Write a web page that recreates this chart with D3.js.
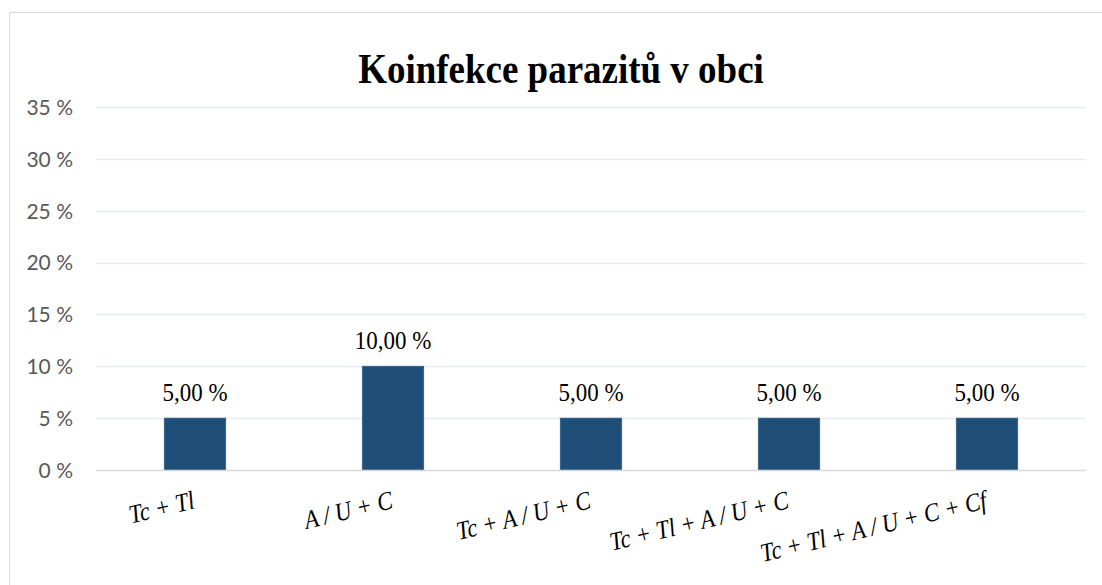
<!DOCTYPE html>
<html>
<head>
<meta charset="utf-8">
<script src="https://cdn.jsdelivr.net/npm/d3@7"></script>
<style>
  html, body { margin: 0; padding: 0; background: #ffffff; }
  svg { display: block; }
</style>
</head>
<body>
<svg id="chart" width="1102" height="585"></svg>
<script>
const title = "Koinfekce parazitů v obci";
const categories = ["Tc + Tl", "A / U + C", "Tc + A / U + C", "Tc + Tl + A / U + C", "Tc + Tl + A / U + C + Cf"];
const values = [0.05, 0.10, 0.05, 0.05, 0.05];
const valueLabels = ["5,00 %", "10,00 %", "5,00 %", "5,00 %", "5,00 %"];
const yTicks = [0, 0.05, 0.10, 0.15, 0.20, 0.25, 0.30, 0.35];
const yTickLabels = ["0 %", "5 %", "10 %", "15 %", "20 %", "25 %", "30 %", "35 %"];

const svg = d3.select("#chart");
const serif = "'Liberation Serif', 'Times New Roman', serif";

// chart area border
svg.append("path")
  .attr("d", "M9.5,600 L9.5,12.5 L1110,12.5")
  .attr("fill", "none")
  .attr("stroke", "#d9d9d9")
  .attr("stroke-width", 1);

const plot = { left: 96, right: 1086, top: 107, bottom: 470 };

const x = d3.scaleBand().domain(categories).range([plot.left, plot.right]).paddingInner(0.69).paddingOuter(0.345);
const y = d3.scaleLinear().domain([0, 0.35]).range([plot.bottom, plot.top]);

// gridlines
svg.append("g").selectAll("line")
  .data(yTicks.filter(d => d > 0))
  .join("line")
  .attr("x1", plot.left).attr("x2", plot.right)
  .attr("y1", d => Math.round(y(d)) + 0.5).attr("y2", d => Math.round(y(d)) + 0.5)
  .attr("stroke", "#e8ecf1").attr("stroke-width", 1.3);

// y axis labels
const yAxis = d3.axisLeft(y).tickValues(yTicks).tickFormat((d, i) => yTickLabels[i]).tickSize(0).tickPadding(0);
const yg = svg.append("g").attr("transform", "translate(73,0)").call(yAxis);
yg.select(".domain").remove();
yg.selectAll("text")
  .attr("font-family", "Lato, 'Open Sans', sans-serif")
  .attr("font-size", 21)
  .attr("fill", "#595959")
  .attr("dy", "0.35em");

// bars
svg.append("g").selectAll("rect")
  .data(values)
  .join("rect")
  .attr("x", (d, i) => x(categories[i]))
  .attr("width", x.bandwidth())
  .attr("y", d => y(d))
  .attr("height", d => y(0) - y(d))
  .attr("fill", "#1f4e79")
  .attr("stroke", "#2e5d88")
  .attr("stroke-width", 0.8);

// x axis baseline
svg.append("line")
  .attr("x1", plot.left).attr("x2", plot.right)
  .attr("y1", plot.bottom + 0.5).attr("y2", plot.bottom + 0.5)
  .attr("stroke", "#d9d9d9").attr("stroke-width", 1.5);

// value labels
svg.append("g").selectAll("text")
  .data(values)
  .join("text")
  .attr("transform", (d, i) => `translate(${x(categories[i]) + x.bandwidth() / 2},${y(d) - 17}) scale(0.9,1)`)
  .attr("text-anchor", "middle")
  .attr("font-family", serif)
  .attr("font-size", 25.5)
  .attr("fill", "#000000")
  .text((d, i) => valueLabels[i]);

// category labels (rotated)
svg.append("g").selectAll("text")
  .data(categories)
  .join("text")
  .attr("transform", d => `translate(${x(d) + x.bandwidth() / 2 + 1},508) rotate(-13.5) scale(0.88,1)`)
  .attr("text-anchor", "end")
  .attr("font-family", serif)
  .attr("font-style", "italic")
  .attr("font-size", 26)
  .attr("fill", "#000000")
  .text(d => d);

// title
svg.append("text")
  .attr("transform", "translate(561,83) scale(0.86,1)")
  .attr("text-anchor", "middle")
  .attr("font-family", serif)
  .attr("font-weight", "bold")
  .attr("font-size", 43)
  .attr("fill", "#000000")
  .text(title);
</script>
</body>
</html>
